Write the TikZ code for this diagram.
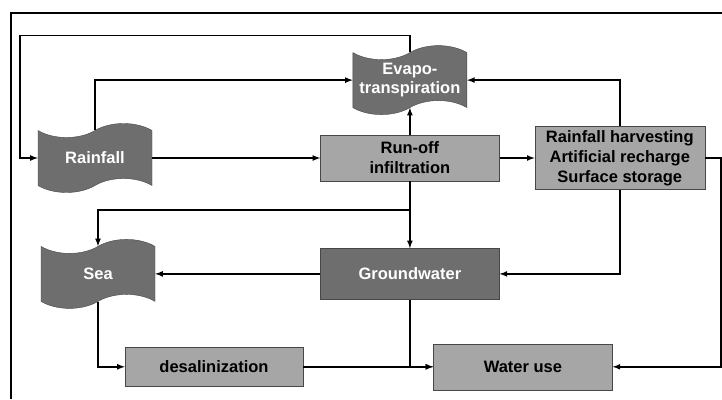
\documentclass[tikz,border=0pt]{standalone}
\usepackage{fontspec}
\setmainfont{Liberation Sans}
\usepackage{tikz}
\usetikzlibrary{shapes.symbols, arrows, positioning}
\definecolor{darkfill}{gray}{0.43}
\definecolor{lightfill}{gray}{0.65}
\definecolor{edge}{gray}{0.28}
\tikzstyle{wave} = [tape, tape bend top = in and out, tape bend bottom = in and out, tape bend height = 14pt, minimum width = 114pt, minimum height = 69pt, inner sep = 0pt, align = center, draw = edge, fill = darkfill, text = white, font = \fontsize{16.5}{19}\selectfont\bfseries]
\tikzstyle{light} = [rectangle, minimum width = 179pt, minimum height = 46pt, inner sep = 0pt, align = center, draw = edge, fill = lightfill, font = \fontsize{16.5}{20}\selectfont\bfseries]
\tikzstyle{dark} = [rectangle, minimum width = 179pt, minimum height = 51pt, inner sep = 0pt, align = center, draw = edge, fill = darkfill, text = white, font = \fontsize{16.5}{20}\selectfont\bfseries]
\tikzstyle{arrow} = [line width = 1.6pt, ->, > = latex]

\begin{document}
\begin{tikzpicture}[x = 1pt, y = 1pt]
\useasboundingbox (0, 0) rectangle (722, -399);

%FRAME
\draw [line width = 1.4pt] (11, -399) -- (11, -13) -- (722, -13);

%NODES
\node (rainfall) [wave] at (95, -158) {Rainfall};
\node (runoff) [light, right = 168pt of rainfall] {Run-off\\infiltration};
\node (harvest) [light, right = 35pt of runoff, minimum width = 170pt, minimum height = 63pt] {Rainfall harvesting\\Artificial recharge\\Surface storage};
\node (evapo) [wave, above = 27pt of runoff] {Evapo-\\transpiration};
\node (ground) [dark, below = 67pt of runoff] {Groundwater};
\node (sea) [wave, left = 165pt of ground] {Sea};
\node (wateruse) [light, below = 44pt of ground, xshift = 113pt] {Water use};
\node (desal) [light, left = 130pt of wateruse, minimum width = 178pt, minimum height = 39pt] {desalinization};
\coordinate (split) at ([yshift = -29pt]runoff.south);

%ARROWS
\draw [arrow] (evapo.north) -- ++(0, 17) -| ([xshift = -18pt]rainfall.west) -- (rainfall.west);
\draw [arrow] (rainfall.north) |- (evapo.west);
\draw [arrow] (rainfall.east) -- (runoff.west);
\draw [arrow] (runoff.north) -- (evapo.south);
\draw [arrow] (runoff.east) -- (harvest.west);
\draw [arrow] (harvest.north) |- (evapo.east);
\draw [arrow] (harvest.south) |- (ground.east);
\draw [arrow] (harvest.east) -- ++(16, 0) |- (wateruse.east);
\draw [arrow] (runoff.south) -- (ground.north);
\draw [arrow] (split) -| (sea.north);
\draw [arrow] (ground.west) -- (sea.east);
\draw [arrow] (sea.south) |- (desal.west);
\draw [arrow] (desal.east) -- (wateruse.west);
\draw [arrow] (ground.south) |- (wateruse.west);

\end{tikzpicture}
\end{document}
